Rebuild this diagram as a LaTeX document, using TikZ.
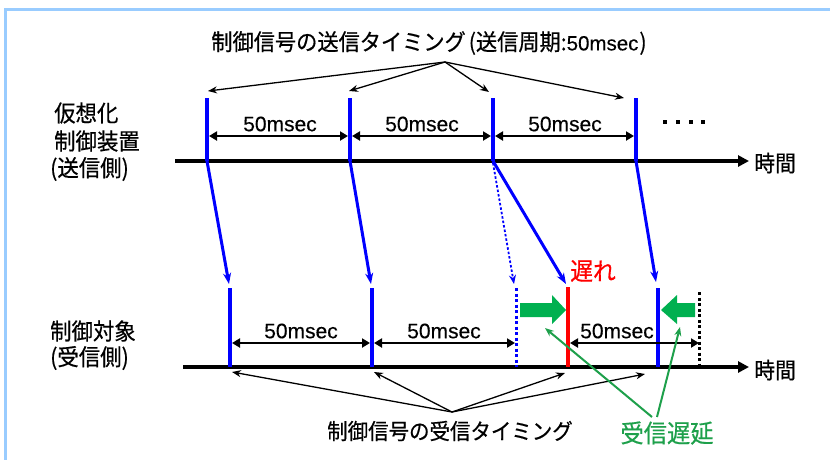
\documentclass[tikz,border=0pt]{standalone}
\usepackage{fontspec}
\newfontfamily\jp[FakeStretch=0.93,FakeBold=0.5]{Noto Sans CJK JP}
\newfontfamily\lib[FakeBold=0.3]{Liberation Sans}
\usetikzlibrary{arrows.meta}
\definecolor{frameblue}{RGB}{153,204,255}
\definecolor{sigblue}{RGB}{0,0,255}
\definecolor{delayred}{RGB}{255,0,0}
\definecolor{grarrow}{RGB}{0,176,80}
\definecolor{grtext}{RGB}{30,160,75}
\tikzset{
  jplabel/.style={font=\jp\fontsize{23}{27}\selectfont, inner sep=0pt},
  msec/.style={font=\lib\fontsize{21}{24}\selectfont, inner sep=0pt},
  axisline/.style={line width=3.5pt, -{Triangle[length=11pt,width=11pt]}},
  interval/.style={line width=2.5pt, {Triangle[length=8pt,width=9pt]}-{Triangle[length=8pt,width=9pt]}},
  pointer/.style={line width=1.3pt, -{Stealth[length=9pt,width=7pt]}},
  tick/.style={sigblue, line width=4pt},
  signal/.style={sigblue, line width=3pt, -{Stealth[length=11pt,width=8pt]}},
  greenptr/.style={grtext, line width=2pt, -{Stealth[length=9pt,width=7pt]}},
  blockarrow/.style={fill=grarrow, draw=none}
}
\begin{document}
\begin{tikzpicture}[x=1pt,y=-1pt]
\useasboundingbox (0,0) rectangle (830,459);
\begin{scope}
\clip (0,0) rectangle (830,459);
\draw[frameblue, line width=3pt] (5,9) rectangle (845,475);
\end{scope}

% ---------- title ----------
\node[inner sep=0pt] (title) at (429,43) {{\jp\fontsize{22.8}{26}\selectfont 制御信号の送信タイミング\hspace{3pt}(送信周期:}{\lib\fontsize{20.5}{24}\selectfont 50msec}{\jp\fontsize{22.8}{26}\selectfont \hspace{1pt})}};
\coordinate (tc) at (445,62);
\coordinate (tt1) at (208,91);
\coordinate (tt2) at (349,91);
\coordinate (tt3) at (489,92);
\coordinate (tt4) at (624,98);
\foreach \t in {tt1,tt2,tt3,tt4} \draw[pointer] (tc) -- (\t);

% ---------- sender side ----------
\node[jplabel, anchor=west] (l1) at (54,113) {仮想化};
\node[jplabel, anchor=west] (l2) at (54,141) {制御装置};
\node[jplabel, anchor=west] (l3) at (50,169) {(送信側)};

\coordinate (sa0) at (175,161);
\coordinate (sa1) at (749,161);
\draw[axisline] (sa0) -- (sa1);
\node[jplabel, anchor=west, font=\jp\fontsize{22.5}{26}\selectfont] (time1) at (754,163) {時間};

\foreach \i/\x in {1/207,2/350,3/493,4/636}{
  \coordinate (st\i) at (\x,98);
  \coordinate (sb\i) at (\x,161);
  \draw[tick] (st\i) -- (sb\i);
}
\coordinate (si1) at (209,136); \coordinate (si2) at (348,136);
\coordinate (si3) at (352,136); \coordinate (si4) at (491,136);
\coordinate (si5) at (495,136); \coordinate (si6) at (634,136);
\draw[interval] (si1) -- (si2);
\draw[interval] (si3) -- (si4);
\draw[interval] (si5) -- (si6);
\node[msec] (sm1) at (280,124) {50msec};
\node[msec] (sm2) at (422,124) {50msec};
\node[msec] (sm3) at (565,124) {50msec};
\foreach \x in {665,678,691,703} \fill (\x-2,120) rectangle (\x+2,124);

% ---------- receiver side ----------
\node[jplabel, anchor=west] (l4) at (50,331) {制御対象};
\node[jplabel, anchor=west] (l5) at (50,358) {(受信側)};

\coordinate (ra0) at (183,367);
\coordinate (ra1) at (749,367);
\draw[axisline] (ra0) -- (ra1);
\node[jplabel, anchor=west, font=\jp\fontsize{22.5}{26}\selectfont] (time2) at (754,370) {時間};

\coordinate (rt1) at (230,288); \coordinate (rb1) at (230,367);
\coordinate (rt2) at (372,288); \coordinate (rb2) at (372,367);
\coordinate (rt3) at (516,288); \coordinate (rb3) at (516,367);
\coordinate (rt4) at (568,287); \coordinate (rb4) at (568,367);
\coordinate (rt5) at (658,288); \coordinate (rb5) at (658,367);
\coordinate (rt6) at (699,292); \coordinate (rb6) at (699,367);
\draw[tick] (rt1) -- (rb1);
\draw[tick] (rt2) -- (rb2);
\draw[sigblue, line width=3pt, dash pattern=on 3pt off 2.5pt] (rt3) -- (rb3);
\draw[delayred, line width=4pt] (rt4) -- (rb4);
\draw[tick] (rt5) -- (rb5);
\draw[black, line width=3pt, dash pattern=on 3pt off 2.5pt] (rt6) -- (rb6);

\coordinate (ri1) at (232,343); \coordinate (ri2) at (370,343);
\coordinate (ri3) at (374,343); \coordinate (ri4) at (515,343);
\coordinate (ri5) at (570,343); \coordinate (ri6) at (699,343);
\draw[interval] (ri1) -- (ri2);
\draw[interval] (ri3) -- (ri4);
\draw[interval] (ri5) -- (ri6);
\node[msec] (rm1) at (301,331) {50msec};
\node[msec] (rm2) at (444,331) {50msec};
\node[msec] (rm3) at (617,331) {50msec};

% ---------- signal transmission ----------
\coordinate (ar1) at (229,284);
\coordinate (ar2) at (371,284);
\coordinate (ar3) at (514,284);
\coordinate (ar4) at (566,284);
\coordinate (ar5) at (656,282);
\draw[signal] (sb1) -- (ar1);
\draw[signal] (sb2) -- (ar2);
\draw[signal] (sb3) -- (ar4);
\draw[signal] (sb4) -- (ar5);
\draw[sigblue, line width=1.8pt, dash pattern=on 2.5pt off 2pt, -{Stealth[length=9pt,width=7pt]}] (493,163) -- (ar3);

\node[font=\jp\fontsize{24.5}{28}\selectfont, text=delayred, inner sep=0pt] (late) at (593,271) {遅れ};

% green block arrows
\fill[blockarrow] (520,303) -- (552,303) -- (552,295) -- (566,310) -- (552,324) -- (552,317) -- (520,317) -- cycle;
\fill[blockarrow] (695,303) -- (677,303) -- (677,295) -- (661,310) -- (677,324) -- (677,317) -- (695,317) -- cycle;

% ---------- bottom labels ----------
\node[font=\jp\fontsize{22}{26}\selectfont, inner sep=0pt] (rxlabel) at (450,431) {制御信号の受信タイミング};
\coordinate (bc) at (452,412);
\coordinate (bt1) at (232,372);
\coordinate (bt2) at (374,372);
\coordinate (bt3) at (565,373);
\coordinate (bt4) at (645,374);
\foreach \t in {bt1,bt2,bt3,bt4} \draw[pointer] (bc) -- (\t);

\node[font=\jp\fontsize{25}{29}\selectfont, text=grtext, inner sep=0pt] (delay) at (667,433) {受信遅延};
\coordinate (gc1) at (652,417);
\coordinate (gc2) at (657,417);
\coordinate (gt1) at (545,328);
\coordinate (gt2) at (680,327);
\draw[greenptr] (gc1) -- (gt1);
\draw[greenptr] (gc2) -- (gt2);
\end{tikzpicture}
\end{document}
